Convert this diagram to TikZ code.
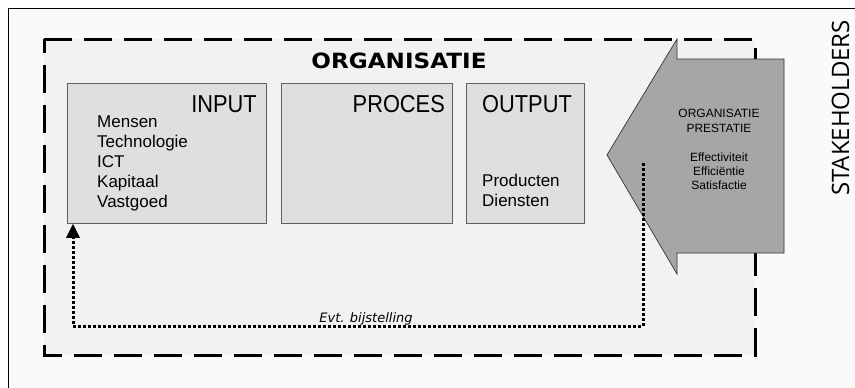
\documentclass[tikz,border=0pt]{standalone}
\usepackage{fontspec}
\usetikzlibrary{arrows.meta}
\newfontfamily\libs{Liberation Sans}
\newfontfamily\libhdr[FakeStretch=0.89]{Liberation Sans}
\newfontfamily\titlefont[FakeStretch=1.1]{DejaVu Sans Bold}
\newfontfamily\labelfont{DejaVu Sans Oblique}
\newfontfamily\stakefont{Open Sans}
\definecolor{outerbg}{HTML}{FAFAFA}
\definecolor{dashbg}{HTML}{F2F2F2}
\definecolor{boxfill}{HTML}{DFDFDF}
\definecolor{boxline}{HTML}{606060}
\definecolor{arrowfill}{HTML}{A6A6A6}
\definecolor{arrowline}{HTML}{333333}
\tikzset{
  box/.style={draw=boxline, fill=boxfill, line width=0.8pt, inner sep=0pt, anchor=north west},
  hdr/.style={inner sep=0pt, font=\libhdr\fontsize{24.5}{28}\selectfont},
  item/.style={inner sep=0pt, anchor=base west, font=\libs\fontsize{17}{20}\selectfont},
  small/.style={inner sep=0pt, anchor=base, font=\libs\fontsize{12}{14}\selectfont},
  dashbox/.style={draw=black, fill=dashbg, line width=3pt, dash pattern=on 28pt off 12pt},
  fbline/.style={draw=black, line width=3pt, dash pattern=on 3pt off 2pt},
}
\begin{document}
\begin{tikzpicture}[x=1pt,y=-1pt]
\useasboundingbox (0,0) rectangle (855,388);
\clip (0,0) rectangle (855,388);
\fill[white] (0,0) rectangle (855,388);
\draw[fill=outerbg, line width=1pt] (8,8) rectangle (900,420);
% dashed organisation frame
\draw[dashbox] (44,39) -- (755,39) -- (755,355) -- (44,355) -- cycle;
% title
\node[inner sep=0pt, anchor=base, font=\titlefont\fontsize{21}{24}\selectfont] (title) at (399,68) {ORGANISATIE};
% boxes
\node[box, minimum width=199pt, minimum height=140pt] (input) at (67,83) {};
\node[box, minimum width=171pt, minimum height=140pt] (proces) at (281,83) {};
\node[box, minimum width=118pt, minimum height=140pt] (output) at (466,83) {};
\node[hdr, anchor=base east] (inlbl) at (257,112) {INPUT};
\node[hdr, anchor=base east] (prlbl) at (445,112) {PROCES};
\node[hdr, anchor=base west] (outlbl) at (482,112) {OUTPUT};
\node[item] (i1) at (97,127) {Mensen};
\node[item] (i2) at (97,147) {Technologie};
\node[item] (i3) at (97,167) {ICT};
\node[item] (i4) at (97,187) {Kapitaal};
\node[item] (i5) at (97,207) {Vastgoed};
\node[item] (o1) at (482,186) {Producten};
\node[item] (o2) at (482,206) {Diensten};
% performance arrow
\draw[fill=arrowfill, draw=arrowline, line width=0.7pt, line join=miter]
  (607,155) -- (677,39) -- (677,59) -- (784,59) -- (784,253) -- (677,253) -- (677,274) -- cycle;
\node[small] (p1) at (719,117) {ORGANISATIE};
\node[small] (p2) at (719,132) {PRESTATIE};
\node[small] (p3) at (719,161) {Effectiviteit};
\node[small] (p4) at (719,175) {Efficiëntie};
\node[small] (p5) at (719,189) {Satisfactie};
% feedback loop
\coordinate (fbstart) at (643,163);
\coordinate (c1) at (643,326);
\coordinate (c2) at (73,326);
\draw[fbline] (fbstart) -- (c1) -- (c2) -- ([yshift=-14pt]c2 |- input.south);
\draw[draw=none] ([yshift=-14pt]c2 |- input.south) edge[-{Triangle[length=14pt,width=14pt]}, line width=0pt, draw=black, fill=black] (c2 |- input.south);
\node[inner sep=0pt, anchor=base, font=\labelfont\fontsize{13}{15}\selectfont] (fblbl) at (366,322) {Evt. bijstelling};
% stakeholders
\node[inner sep=0pt, anchor=base, rotate=90, font=\stakefont\fontsize{24}{28}\selectfont] (stake) at (849,108) {STAKEHOLDERS};
\end{tikzpicture}
\end{document}
